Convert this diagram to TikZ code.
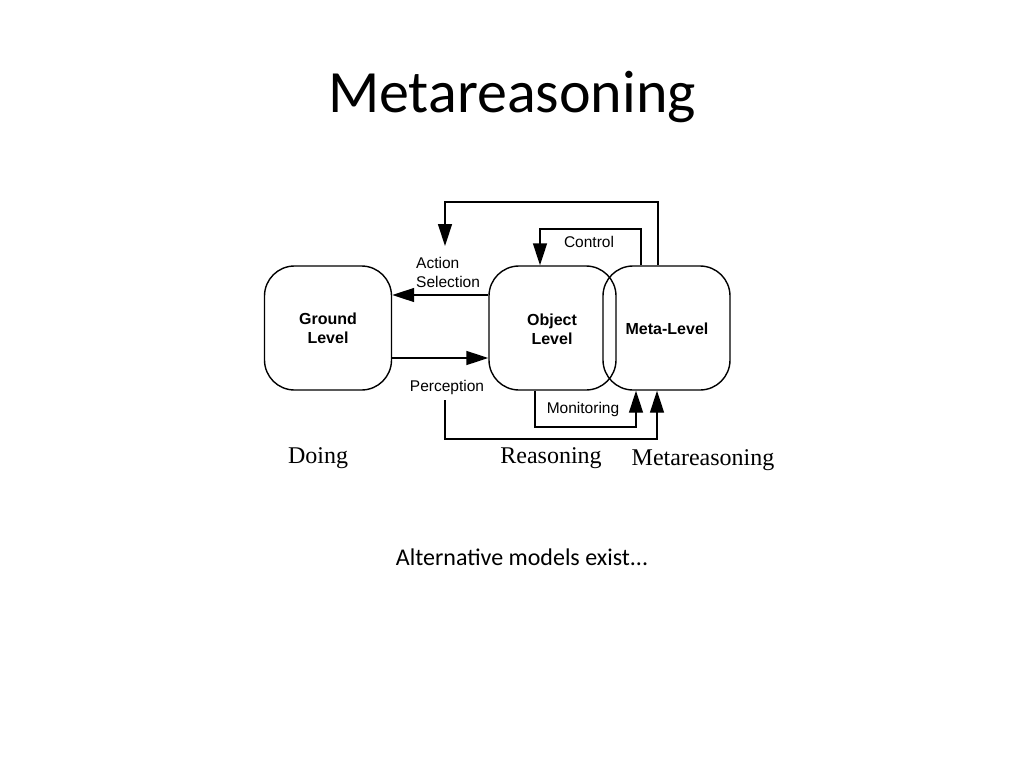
\documentclass[tikz,border=0pt]{standalone}
\usepackage{fontspec}
\setmainfont{Carlito}
\newfontfamily\arialf{Liberation Sans}
\newfontfamily\timesf{Liberation Serif}
\usetikzlibrary{arrows.meta}
\begin{document}
\begin{tikzpicture}[x=1pt,y=-1pt,
  lvl/.style={draw,line width=1.4pt,rounded corners=30pt,minimum width=127pt,minimum height=124pt,inner sep=0pt,font=\arialf\bfseries\fontsize{16}{19}\selectfont,align=center},
  lbl/.style={font=\arialf\fontsize{15.5}{19}\selectfont,inner sep=0pt},
  captxt/.style={font=\timesf\fontsize{24}{28}\selectfont,inner sep=0pt},
  ar/.style={line width=1.4pt,-{Triangle[length=22pt,width=14pt]}},
  ln/.style={line width=1.4pt}]
\useasboundingbox (0,0) rectangle (1024,768);
\node[font=\fontsize{60}{70}\selectfont] (title) at (512,97) {Metareasoning};
\node[lvl] (g) at (328,328) {Ground\\Level};
\node[lvl,fill=none] (o) at (552.5,328) {};
\node[lvl] (m) at (666.5,328) {};
\node[font=\arialf\bfseries\fontsize{16}{19}\selectfont,align=center] (ot) at (552,329) {Object\\Level};
\node[font=\arialf\bfseries\fontsize{16}{19}\selectfont] (mt) at (667,329) {Meta-Level};
\draw[ar] (o.west |- 0,295) -- (g.east |- 0,295);
\draw[ar] (g.east |- 0,358) -- (o.west |- 0,358);
\node[lbl,anchor=west,align=left] (as) at (416,272) {Action\\Selection};
\node[lbl] (pc) at (447,387) {Perception};
\coordinate (t1) at (658,202); \coordinate (t2) at (445,202); \coordinate (t3) at (445,246);
\draw[ar] (m.north -| 658,0) -- (t1) -- (t2) -- (t3);
\coordinate (c1) at (641,229); \coordinate (c2) at (540,229);
\draw[ar] (m.north -| 641,0) -- (c1) -- (c2) -- (o.north -| 540,0);
\node[lbl] (ct) at (589,242) {Control};
\coordinate (m1) at (535,427); \coordinate (m2) at (636,427);
\draw[ar] (o.south -| 535,0) -- (m1) -- (m2) -- (m.south -| 636,0);
\node[lbl] (mo) at (583,409) {Monitoring};
\coordinate (p0) at (445,400); \coordinate (p1) at (445,439); \coordinate (p2) at (657,439);
\draw[ar] (p0) -- (p1) -- (p2) -- (m.south -| 657,0);
\node[captxt] (d) at (318,458) {Doing};
\node[captxt] (r) at (551,458) {Reasoning};
\node[captxt] (mr) at (703,460) {Metareasoning};
\node[font=\fontsize{24}{28}\selectfont] (alt) at (522,557) {Alternative models exist...};
\end{tikzpicture}
\end{document}
